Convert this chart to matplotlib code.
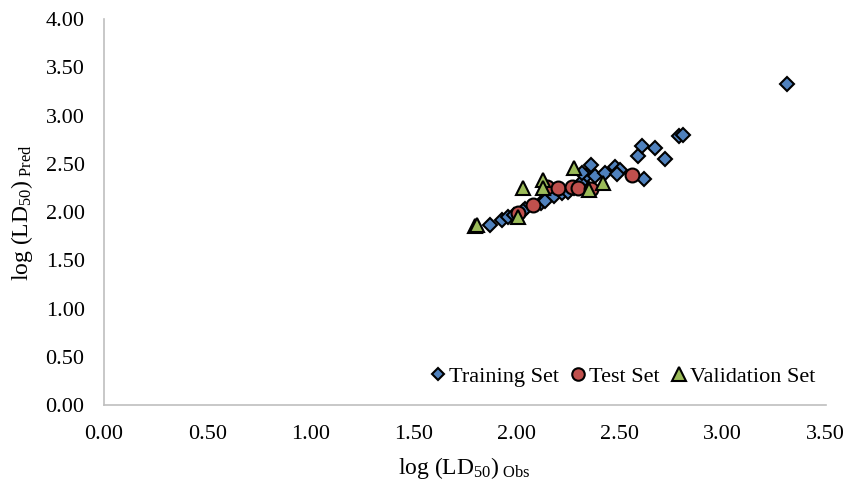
import matplotlib
matplotlib.use("Agg")
import matplotlib.pyplot as plt

plt.rcParams["font.family"] = ["Liberation Serif", "DejaVu Serif"]
plt.rcParams["mathtext.fontset"] = "custom"
plt.rcParams["mathtext.rm"] = "Liberation Serif"
plt.rcParams["mathtext.it"] = "Liberation Serif:italic"

train_obs = [1.87, 1.93, 1.96, 1.99, 2.04, 2.03, 2.12, 2.14, 2.18, 2.22, 2.25, 2.28, 2.32,
             2.34, 2.32, 2.36, 2.38, 2.43, 2.48, 2.50, 2.49, 2.59, 2.61, 2.67, 2.72, 2.62,
             2.79, 2.81, 3.31]
train_pred = [1.87, 1.92, 1.95, 1.97, 2.03, 2.01, 2.09, 2.11, 2.17, 2.20, 2.21, 2.25, 2.31,
              2.38, 2.41, 2.49, 2.37, 2.41, 2.47, 2.44, 2.40, 2.58, 2.69, 2.66, 2.55, 2.34,
              2.79, 2.80, 3.33]

test_obs = [2.01, 2.08, 2.15, 2.20, 2.27, 2.30, 2.36, 2.56]
test_pred = [1.99, 2.07, 2.26, 2.25, 2.26, 2.25, 2.24, 2.38]

val_obs = [1.80, 1.81, 2.01, 2.03, 2.13, 2.13, 2.28, 2.35, 2.42]
val_pred = [1.86, 1.87, 1.95, 2.25, 2.33, 2.25, 2.46, 2.23, 2.30]

fig = plt.figure(figsize=(8.46, 4.91), dpi=100)
ax = fig.add_axes([0.123, 0.175, 0.853, 0.786])

ax.plot(train_obs, train_pred, "D", color="#4F81BD", markeredgecolor="black",
        markeredgewidth=1.5, markersize=7, label="Training Set", linestyle="none")
ax.plot(test_obs, test_pred, "o", color="#C0504D", markeredgecolor="black",
        markeredgewidth=1.5, markersize=10, label="Test Set", linestyle="none")
ax.plot(val_obs, val_pred, "^", color="#9BBB59", markeredgecolor="black",
        markeredgewidth=1.5, markersize=10.5, label="Validation Set", linestyle="none")

ax.set_xlim(0, 3.5)
ax.set_ylim(0, 4.0)
ax.set_xticks([0, 0.5, 1, 1.5, 2, 2.5, 3, 3.5])
ax.set_yticks([0, 0.5, 1, 1.5, 2, 2.5, 3, 3.5, 4])
ax.xaxis.set_major_formatter(matplotlib.ticker.FormatStrFormatter("%.2f"))
ax.yaxis.set_major_formatter(matplotlib.ticker.FormatStrFormatter("%.2f"))
ax.tick_params(length=0, labelsize=16)
ax.tick_params(axis="x", pad=14)
ax.tick_params(axis="y", pad=14)

for s in ["top", "right"]:
    ax.spines[s].set_visible(False)
for s in ["left", "bottom"]:
    ax.spines[s].set_color("#BFBFBF")
    ax.spines[s].set_linewidth(1.2)

ax.set_xlabel(r"log (LD$_{50}$)$_{\ \mathrm{Obs}}$", fontsize=17, labelpad=8)
ax.set_ylabel(r"log (LD$_{50}$)$_{\ \mathrm{Pred}}$", fontsize=17, labelpad=8)

ax.legend(loc="lower right", ncol=3, frameon=False, fontsize=16, handletextpad=0.0,
          columnspacing=0.35, handlelength=1.0, borderaxespad=0.0, markerscale=0.9,
          bbox_to_anchor=(0.998, 0.025))

fig.savefig("out.png", dpi=100)
